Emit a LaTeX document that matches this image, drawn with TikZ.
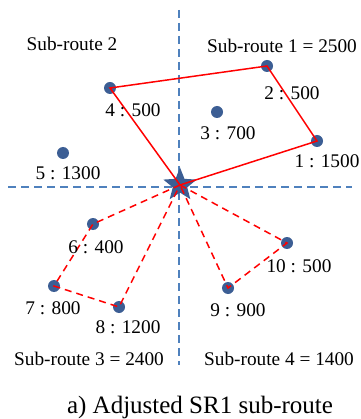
\documentclass[tikz,border=0pt]{standalone}
\usepackage{fontspec}
\setmainfont{Liberation Serif}
\usetikzlibrary{shapes.geometric}
\definecolor{dotblue}{RGB}{60,94,148}
\definecolor{axisblue}{RGB}{79,129,189}
\begin{document}
\begin{tikzpicture}[x=1pt,y=-1pt,
  cust/.style={circle,fill=dotblue,inner sep=0pt,minimum size=12pt},
  lbl/.style={font=\fontsize{19.3}{22}\selectfont,inner sep=0pt},
  axis/.style={axisblue,line width=1.6pt,dash pattern=on 8pt off 5pt},
  solidroute/.style={red,line width=1.5pt},
  dashroute/.style={red,line width=1.5pt,dash pattern=on 7pt off 5pt}]
\useasboundingbox (0,0) rectangle (360,419);
% axes
\coordinate (vt) at (179,10);
\coordinate (vb) at (179,365);
\coordinate (hl) at (8,187);
\coordinate (hr) at (352,187);
\draw[axis] (vt) -- (vb);
\draw[axis] (hl) -- (hr);
% customers
\node[cust] (n1) at (317,141) {};
\node[cust] (n2) at (267,66) {};
\node[cust] (n3) at (217,112) {};
\node[cust] (n4) at (110,88) {};
\node[cust] (n5) at (63,153) {};
\node[cust] (n6) at (93,224) {};
\node[cust] (n7) at (54,286) {};
\node[cust] (n8) at (119,307) {};
\node[cust] (n9) at (228,288) {};
\node[cust] (n10) at (287,243) {};
% depot
\node[star,star points=5,star point ratio=2.3,fill=dotblue,inner sep=0pt,minimum size=35pt] (dep) at (180,185) {};
\coordinate (d) at (180,185);
% routes
\draw[solidroute] (d) -- (n1.center) -- (n2.center) -- (n4.center) -- (d);
\draw[dashroute] (d) -- (n6.center) -- (n7.center) -- (n8.center) -- (d);
\draw[dashroute] (d) -- (n10.center) -- (n9.center) -- (d);
% labels
\node[lbl] (l1) at (327,161) {1 : 1500};
\node[lbl] (l2) at (292,93) {2 : 500};
\node[lbl] (l3) at (228,133) {3 : 700};
\node[lbl] (l4) at (133,110) {4 : 500};
\node[lbl] (l5) at (68,173) {5 : 1300};
\node[lbl] (l6) at (96,247) {6 : 400};
\node[lbl] (l7) at (53,308) {7 : 800};
\node[lbl] (l8) at (128,327) {8 : 1200};
\node[lbl] (l9) at (238,310) {9 : 900};
\node[lbl] (l10) at (299,266) {10 : 500};
\node[lbl] (s2) at (72,44) {Sub-route 2};
\node[lbl] (s1) at (282,46) {Sub-route 1 = 2500};
\node[lbl] (s3) at (89,359) {Sub-route 3 = 2400};
\node[lbl] (s4) at (279,359) {Sub-route 4 = 1400};
\node[font=\fontsize{25}{28}\selectfont,inner sep=0pt,anchor=base] (cap) at (200,413) {a) Adjusted SR1 sub-route};
\end{tikzpicture}
\end{document}
